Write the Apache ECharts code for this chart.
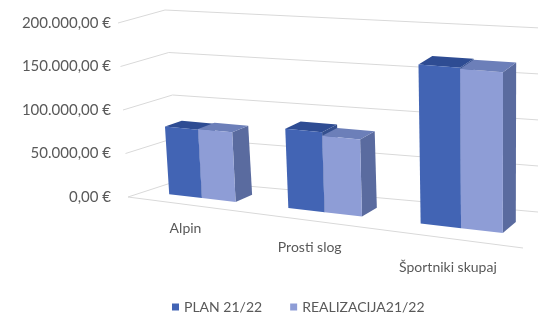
<!DOCTYPE html>
<html>
<head>
<meta charset="utf-8">
<script src="https://cdn.jsdelivr.net/npm/echarts@6/dist/echarts.min.js"></script>
<style>
  html, body { margin: 0; padding: 0; background: #fff; }
  #chart { width: 538px; height: 317px; }
</style>
</head>
<body>
<div id="chart"></div>
<script>
// podatki
var categories = ['Alpin', 'Prosti slog', 'Športniki skupaj'];
var plan = [78000, 89000, 173000];
var realizacija = [79000, 85000, 172000];
var yTicks = [0, 50000, 100000, 150000, 200000];

var textColor = '#595959';
var font = 'Lato';

// vogali "3D" skatle (front / back, spodaj / zgoraj)
var F00 = [128, 197], F01 = [118, 23], F10 = [523, 248], F11 = [524, 58];
var B00 = [180, 180], B01 = [165, 10], B10 = [560, 214], B11 = [562, 29];
var Z_FRONT = 0.33, Z_BACK = 0.67;

function warp(x) {
  var a = 0.852;
  return a * x / (1 + (a - 1) * x);
}
function lerp(p, q, t) {
  return [p[0] + (q[0] - p[0]) * t, p[1] + (q[1] - p[1]) * t];
}
function proj(X, Y, Z) {
  var g = warp(X);
  var fb = lerp(F00, F10, g), ft = lerp(F01, F11, g);
  var bb = lerp(B00, B10, g), bt = lerp(B01, B11, g);
  var b = lerp(fb, bb, Z), t = lerp(ft, bt, Z);
  return lerp(b, t, Y);
}
function toUnit(params, api, pt) {
  var cs = params.coordSys;
  return [(pt[0] - cs.x) / cs.width, (cs.y + cs.height - pt[1]) / cs.height];
}

function euro(v) {
  var s = String(Math.round(v)).replace(/\B(?=(\d{3})+(?!\d))/g, '.');
  return s + ',00 €';
}

function barRenderer(side, colors) {
  return function (params, api) {
    var pt = api.coord([api.value(0), api.value(1)]);
    var u = toUnit(params, api, pt);
    var band = api.size([1, 0])[0] / params.coordSys.width;
    var w = band * 0.285;
    var x0 = side < 0 ? u[0] - w : u[0];
    var x1 = side < 0 ? u[0] : u[0] + w;
    var Y = u[1];
    var zf = Z_FRONT, zb = Z_BACK;
    return {
      type: 'group',
      children: [
        { type: 'polygon', shape: { points: [proj(x1, 0, zf), proj(x1, 0, zb), proj(x1, Y, zb), proj(x1, Y, zf)] },
          style: { fill: colors.side } },
        { type: 'polygon', shape: { points: [proj(x0, Y, zf), proj(x1, Y, zf), proj(x1, Y, zb), proj(x0, Y, zb)] },
          style: { fill: colors.top } },
        { type: 'polygon', shape: { points: [proj(x0, 0, zf), proj(x1, 0, zf), proj(x1, Y, zf), proj(x0, Y, zf)] },
          style: { fill: colors.front } }
      ]
    };
  };
}

var chart = echarts.init(document.getElementById('chart'));

var option = {
  animation: false,
  grid: { left: 117, right: 20, top: 23, bottom: 120 },
  legend: {
    left: 167,
    top: 295,
    icon: 'rect',
    itemWidth: 7,
    itemHeight: 7,
    itemGap: 28,
    textStyle: { color: textColor, fontSize: 14, fontFamily: font },
    data: ['PLAN 21/22', 'REALIZACIJA21/22']
  },
  xAxis: { type: 'category', data: categories, show: false },
  yAxis: {
    type: 'value',
    min: 0,
    max: 200000,
    interval: 50000,
    axisLine: { show: false },
    axisTick: { show: false },
    splitLine: { show: false },
    axisLabel: { margin: 6, color: textColor, fontSize: 15, fontFamily: font, formatter: euro }
  },
  series: [
    {
      // mrezne crte po stranski in zadnji steni
      type: 'custom',
      silent: true,
      z: 1,
      data: yTicks.map(function (v) { return [0, v]; }),
      encode: { x: 0, y: 1 },
      renderItem: function (params, api) {
        var u = toUnit(params, api, api.coord([0, api.value(1)]));
        var Y = u[1];
        var kids = [{
          type: 'polyline',
          shape: { points: [proj(0, Y, 0), proj(0, Y, 1), proj(1, Y, 1)] },
          style: { stroke: '#d9d9d9', lineWidth: 1, fill: null }
        }];
        if (api.value(1) === 0) {
          kids.push({
            type: 'line',
            shape: { x1: proj(0, 0, 0)[0], y1: proj(0, 0, 0)[1], x2: proj(1, 0, 0)[0], y2: proj(1, 0, 0)[1] },
            style: { stroke: '#d9d9d9', lineWidth: 1 }
          });
        }
        return { type: 'group', children: kids };
      }
    },
    {
      // oznake kategorij pod tlemi
      type: 'custom',
      silent: true,
      z: 3,
      data: categories.map(function (c, i) { return [i, 0]; }),
      encode: { x: 0, y: 1 },
      renderItem: function (params, api) {
        var u = toUnit(params, api, api.coord([api.value(0), 0]));
        var p = proj(u[0], 0, 0);
        var g = warp(u[0]);
        return {
          type: 'text',
          style: {
            text: categories[params.dataIndex],
            x: p[0], y: p[1] + 23 + 8 * g,
            align: 'center', verticalAlign: 'middle',
            fill: textColor, fontSize: 14, fontFamily: font
          }
        };
      }
    },
    {
      name: 'PLAN 21/22',
      type: 'custom',
      z: 2,
      itemStyle: { color: '#4264b4' },
      data: plan.map(function (v, i) { return [i, v]; }),
      encode: { x: 0, y: 1 },
      renderItem: barRenderer(-1, { front: '#4264b4', top: '#2e4c93', side: '#344f8e' })
    },
    {
      name: 'REALIZACIJA21/22',
      type: 'custom',
      z: 2,
      itemStyle: { color: '#8e9dd6' },
      data: realizacija.map(function (v, i) { return [i, v]; }),
      encode: { x: 0, y: 1 },
      renderItem: barRenderer(1, { front: '#8e9dd6', top: '#6c7fb9', side: '#5a6b9f' })
    }
  ]
};

chart.setOption(option);
</script>
</body>
</html>
